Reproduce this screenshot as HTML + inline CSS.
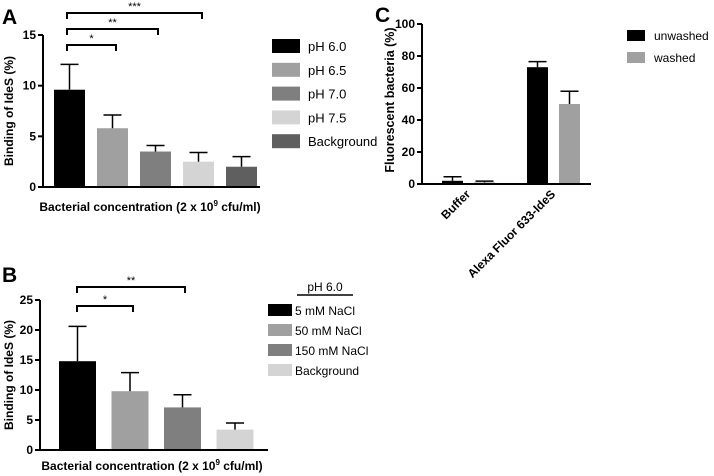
<!DOCTYPE html>
<html><head><meta charset="utf-8"><style>
html,body{margin:0;padding:0;background:#fff;}
svg{display:block;font-family:"Liberation Sans",Arial,sans-serif;}
</style></head><body>
<svg id="fig" width="714" height="476" viewBox="0 0 714 476"></svg>
<script>
// Panel A data
const aCats = ["pH 6.0","pH 6.5","pH 7.0","pH 7.5","Background"];
const aVals = [9.6, 5.8, 3.5, 2.5, 2.0];
const aErr = [2.5, 1.3, 0.6, 0.9, 1.0];
const aTicks = [0,5,10,15];
// Panel B data
const bCats = ["5 mM NaCl","50 mM NaCl","150 mM NaCl","Background"];
const bVals = [14.8, 9.8, 7.1, 3.4];
const bErr = [5.8, 3.1, 2.1, 1.1];
const bTicks = [0,5,10,15,20,25];
// Panel C data
const cGroups = ["Buffer","Alexa Fluor 633-IdeS"];
const cSeries = ["unwashed","washed"];
const cUnwashed = [2, 73];
const cWashed = [1, 50];
const cUnwashedErr = [2.5, 3.5];
const cWashedErr = [0.8, 8];
const cTicks = [0,20,40,60,80,100];

const NS="http://www.w3.org/2000/svg";
const svg=document.getElementById('fig');
function el(tag,attrs,parent,text){const e=document.createElementNS(NS,tag);for(const k in attrs)e.setAttribute(k,attrs[k]);if(text!==undefined)e.textContent=text;(parent||svg).appendChild(e);return e;}
function grp(name){const g=el('g',{});return g;}

function axisY(g,x,y0,yTop,maxV,ticks,name){
  const sy=v=>y0-(v/maxV)*(y0-yTop);
  const l=el('line',{x1:x,y1:y0,x2:x,y2:yTop,stroke:'#000','stroke-width':2},g);
  
  ticks.forEach(t=>{
    el('line',{x1:x-5,y1:sy(t),x2:x,y2:sy(t),stroke:'#000','stroke-width':2},g);
    const tx=el('text',{x:x-7,y:sy(t)+4,'text-anchor':'end','font-size':12,'font-weight':'bold'},g,String(t));
    
  });
  return sy;
}
function bar(g,x,w,v,e,sy,y0,color,name){
  const r=el('rect',{x:x,y:sy(v),width:w,height:y0-sy(v),fill:color},g);
  
  const cx=x+w/2;
  el('line',{x1:cx,y1:sy(v),x2:cx,y2:sy(v+e),stroke:'#000','stroke-width':1.5},g);
  el('line',{x1:cx-9,y1:sy(v+e),x2:cx+9,y2:sy(v+e),stroke:'#000','stroke-width':1.5},g);
}
function bracket(g,x1,x2,y,label,name){
  const p=el('path',{d:`M${x1} ${y+6}V${y}H${x2}V${y+6}`,fill:'none',stroke:'#000','stroke-width':2},g);
  
  el('text',{x:(x1+x2)/2,y:y-3,'text-anchor':'middle','font-size':11},g,label);
}

// Panel A
{
  const g=grp('panel-a');
  const y0=187,yTop=35,x=43;
  el('text',{x:2,y:24,'font-size':21,'font-weight':'bold'},g,'A');
  const sy=axisY(g,x,y0,yTop,15,aTicks,'panel-a');
  const colors=['#000','#a0a0a0','#7f7f7f','#d4d4d4','#5f5f5f'];
  aVals.forEach((v,i)=>bar(g,54+i*43,31,v,aErr[i],sy,y0,colors[i],'bar-a-'+i));
  el('line',{x1:x,y1:y0,x2:260,y2:y0,stroke:'#000','stroke-width':2},g);
  bracket(g,67,202,13,'***','bracket-a-3');
  bracket(g,67,158,29,'**','bracket-a-2');
  bracket(g,67,116,45,'*','bracket-a-1');
  const yl=el('text',{transform:'translate(13,111) rotate(-90)','text-anchor':'middle','font-size':12,'font-weight':'bold'},g,'Binding of IdeS (%)');
  
  const xl=el('text',{x:150,y:211,'text-anchor':'middle','font-size':12,'font-weight':'bold'},g);
  
  xl.innerHTML='Bacterial concentration (2 x 10<tspan dy="-5" font-size="8">9</tspan><tspan dy="5"> cfu/ml)</tspan>';
  aCats.forEach((c,i)=>{
    const lg=el('g',{},g);
    el('rect',{x:272,y:39+i*23.8,width:28,height:14,fill:colors[i]},lg);
    el('text',{x:308,y:51+i*23.8,'font-size':13},lg,c);
  });
}
// Panel B
{
  const g=grp('panel-b');
  const y0=450,yTop=300,x=40;
  el('text',{x:2,y:282,'font-size':21,'font-weight':'bold'},g,'B');
  const sy=axisY(g,x,y0,yTop,25,bTicks,'panel-b');
  const colors=['#000','#a0a0a0','#7f7f7f','#d4d4d4'];
  bVals.forEach((v,i)=>bar(g,59+i*52.5,37,v,bErr[i],sy,y0,colors[i],'bar-b-'+i));
  el('line',{x1:x,y1:y0,x2:268,y2:y0,stroke:'#000','stroke-width':2},g);
  bracket(g,77,185,287,'**','bracket-b-2');
  bracket(g,77,133,306,'*','bracket-b-1');
  const yl=el('text',{transform:'translate(13,375) rotate(-90)','text-anchor':'middle','font-size':12,'font-weight':'bold'},g,'Binding of IdeS (%)');
  
  const xl=el('text',{x:152,y:470,'text-anchor':'middle','font-size':12,'font-weight':'bold'},g);
  
  xl.innerHTML='Bacterial concentration (2 x 10<tspan dy="-5" font-size="8">9</tspan><tspan dy="5"> cfu/ml)</tspan>';
  el('text',{x:325,y:291,'text-anchor':'middle','font-size':12},g,'pH 6.0');
  el('line',{x1:297,y1:295,x2:353,y2:295,stroke:'#000','stroke-width':1.5},g);
  bCats.forEach((c,i)=>{
    const lg=el('g',{},g);
    el('rect',{x:268,y:304+i*20,width:24,height:12,fill:colors[i]},lg);
    el('text',{x:295,y:315+i*20,'font-size':12},lg,c);
  });
}
// Panel C
{
  const g=grp('panel-c');
  const y0=184,yTop=24,x=422;
  el('text',{x:375,y:22,'font-size':21,'font-weight':'bold'},g,'C');
  const sy=axisY(g,x,y0,yTop,100,cTicks,'panel-c');
  const groupX=[442,527];
  cGroups.forEach((c,i)=>{
    bar(g,groupX[i],21,cUnwashed[i],cUnwashedErr[i],sy,y0,'#000','bar-c-unwashed-'+i);
    bar(g,groupX[i]+32,21,cWashed[i],cWashedErr[i],sy,y0,'#a0a0a0','bar-c-washed-'+i);
    const cx=groupX[i]+27;
    const t=el('text',{transform:`translate(${cx+2},${y0+11}) rotate(-45)`,'text-anchor':'end','font-size':12,'font-weight':'bold'},g,c);
    
  });
  el('line',{x1:x,y1:y0,x2:591,y2:y0,stroke:'#000','stroke-width':2},g);
  const yl=el('text',{transform:'translate(394,100) rotate(-90)','text-anchor':'middle','font-size':12.5,'font-weight':'bold'},g,'Fluorescent bacteria (%)');
  
  const cols=['#000','#a0a0a0'];
  cSeries.forEach((s,i)=>{
    const lg=el('g',{},g);
    el('rect',{x:627,y:30+i*22,width:18,height:11,fill:cols[i]},lg);
    el('text',{x:654,y:40+i*22,'font-size':12},lg,s);
  });
}
</script>
</body></html>
